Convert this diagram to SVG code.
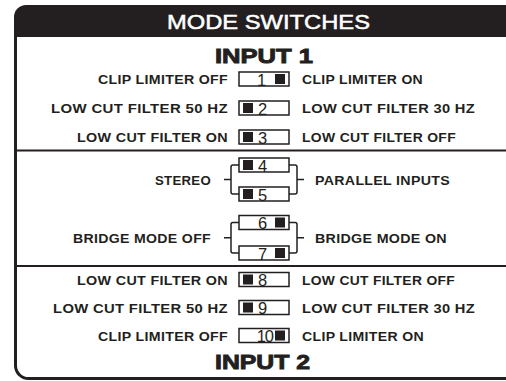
<svg xmlns="http://www.w3.org/2000/svg" width="506" height="381" viewBox="0 0 506 381">
<style>
.lbl{font-family:"Liberation Sans",Arial,sans-serif;font-weight:bold;font-size:13.5px;fill:#231f20;letter-spacing:0.3px}
.l{text-anchor:end}
.dig{font-family:"Liberation Sans",Arial,sans-serif;font-size:16.5px;fill:#231f20}
.box{fill:#fff;stroke:#231f20;stroke-width:1.5}
.sq{fill:#231f20}
.ln{fill:none;stroke:#231f20;stroke-width:1.5}
.hd{font-family:"Liberation Sans",Arial,sans-serif;font-weight:bold;font-size:20px;fill:#231f20;stroke:#231f20;stroke-width:0.9}
</style>
<rect width="506" height="381" fill="#fff"/>
<g id="frame">
<path d="M14 37 V17 A12 12 0 0 1 26 5 H520 V37 Z" fill="#231f20"/>
<path d="M520 378.5 H28.5 A13 13 0 0 1 15.5 365.5 V36" fill="none" stroke="#231f20" stroke-width="3"/>
<line x1="15" y1="150.5" x2="506" y2="150.5" stroke="#231f20" stroke-width="2"/>
<line x1="15" y1="266" x2="506" y2="266" stroke="#231f20" stroke-width="2"/>
<text x="167" y="28.5" textLength="203" lengthAdjust="spacingAndGlyphs" font-family="Liberation Sans, Arial, sans-serif" font-size="20" fill="#fff" stroke="#fff" stroke-width="0.5">MODE SWITCHES</text>
<text class="hd" x="215" y="63" textLength="98" lengthAdjust="spacingAndGlyphs">INPUT 1</text>
<text class="hd" x="215" y="369" textLength="95" lengthAdjust="spacingAndGlyphs">INPUT 2</text>
</g>
<g id="connectors">
<path class="ln" d="M239 165 H233 Q231 165 231 167 V192 Q231 194 233 194 H239 M224 179.5 H231"/>
<path class="ln" d="M289 165 H295 Q297 165 297 167 V192 Q297 194 295 194 H289 M297 179.5 H304"/>
<path class="ln" d="M239 222.5 H233 Q231 222.5 231 224.5 V251 Q231 253 233 253 H239 M224 237.75 H231"/>
<path class="ln" d="M289 222.5 H295 Q297 222.5 297 224.5 V251 Q297 253 295 253 H289 M297 237.75 H304"/>
</g>
<g id="sw1">
<text class="lbl l" x="228" y="84" textLength="130" lengthAdjust="spacingAndGlyphs">CLIP LIMITER OFF</text>
<rect class="box" x="239" y="72" width="50" height="14"/>
<text class="dig" x="257" y="85.5">1</text>
<rect class="sq" x="275" y="74" width="10" height="10"/>
<text class="lbl" x="302" y="84" textLength="121" lengthAdjust="spacingAndGlyphs">CLIP LIMITER ON</text>
</g>
<g id="sw2">
<text class="lbl l" x="228" y="113" textLength="177" lengthAdjust="spacingAndGlyphs">LOW CUT FILTER 50 HZ</text>
<rect class="box" x="239" y="101" width="50" height="14"/>
<rect class="sq" x="243" y="103" width="10" height="10"/>
<text class="dig" x="258" y="114.5">2</text>
<text class="lbl" x="302" y="113" textLength="173" lengthAdjust="spacingAndGlyphs">LOW CUT FILTER 30 HZ</text>
</g>
<g id="sw3">
<text class="lbl l" x="228" y="142" textLength="151" lengthAdjust="spacingAndGlyphs">LOW CUT FILTER ON</text>
<rect class="box" x="239" y="130" width="50" height="14"/>
<rect class="sq" x="243" y="132" width="10" height="10"/>
<text class="dig" x="258" y="143.5">3</text>
<text class="lbl" x="302" y="142" textLength="154" lengthAdjust="spacingAndGlyphs">LOW CUT FILTER OFF</text>
</g>
<g id="sw45">
<text class="lbl l" x="211" y="184.5" textLength="56" lengthAdjust="spacingAndGlyphs">STEREO</text>
<text class="lbl" x="315" y="184.5" textLength="135" lengthAdjust="spacingAndGlyphs">PARALLEL INPUTS</text>
</g>
<g id="sw4">
<rect class="box" x="239" y="158" width="50" height="14"/>
<rect class="sq" x="243" y="160" width="10" height="10"/>
<text class="dig" x="258" y="171.5">4</text>
</g>
<g id="sw5">
<rect class="box" x="239" y="187" width="50" height="14"/>
<rect class="sq" x="243" y="189" width="10" height="10"/>
<text class="dig" x="258" y="200.5">5</text>
</g>
<g id="sw67">
<text class="lbl l" x="211" y="242.7" textLength="138" lengthAdjust="spacingAndGlyphs">BRIDGE MODE OFF</text>
<text class="lbl" x="315" y="242.7" textLength="132" lengthAdjust="spacingAndGlyphs">BRIDGE MODE ON</text>
</g>
<g id="sw6">
<rect class="box" x="239" y="215.5" width="50" height="14"/>
<text class="dig" x="258" y="229">6</text>
<rect class="sq" x="275" y="217.5" width="10" height="10"/>
</g>
<g id="sw7">
<rect class="box" x="239" y="246" width="50" height="14"/>
<text class="dig" x="258" y="259.5">7</text>
<rect class="sq" x="275" y="248" width="10" height="10"/>
</g>
<g id="sw8">
<text class="lbl l" x="228" y="284.5" textLength="151" lengthAdjust="spacingAndGlyphs">LOW CUT FILTER ON</text>
<rect class="box" x="239" y="272.5" width="50" height="14"/>
<rect class="sq" x="243" y="274.5" width="10" height="10"/>
<text class="dig" x="258" y="286">8</text>
<text class="lbl" x="302" y="284.5" textLength="153" lengthAdjust="spacingAndGlyphs">LOW CUT FILTER OFF</text>
</g>
<g id="sw9">
<text class="lbl l" x="228" y="312.5" textLength="175" lengthAdjust="spacingAndGlyphs">LOW CUT FILTER 50 HZ</text>
<rect class="box" x="239" y="300.5" width="50" height="14"/>
<rect class="sq" x="243" y="302.5" width="10" height="10"/>
<text class="dig" x="258" y="314">9</text>
<text class="lbl" x="302" y="312.5" textLength="173" lengthAdjust="spacingAndGlyphs">LOW CUT FILTER 30 HZ</text>
</g>
<g id="sw10">
<text class="lbl l" x="228" y="340.5" textLength="130" lengthAdjust="spacingAndGlyphs">CLIP LIMITER OFF</text>
<rect class="box" x="239" y="328.5" width="50" height="14"/>
<text class="dig" x="273" y="342" text-anchor="end" letter-spacing="-1">10</text>
<rect class="sq" x="275" y="330.5" width="10" height="10"/>
<text class="lbl" x="302" y="340.5" textLength="122" lengthAdjust="spacingAndGlyphs">CLIP LIMITER ON</text>
</g>
</svg>
